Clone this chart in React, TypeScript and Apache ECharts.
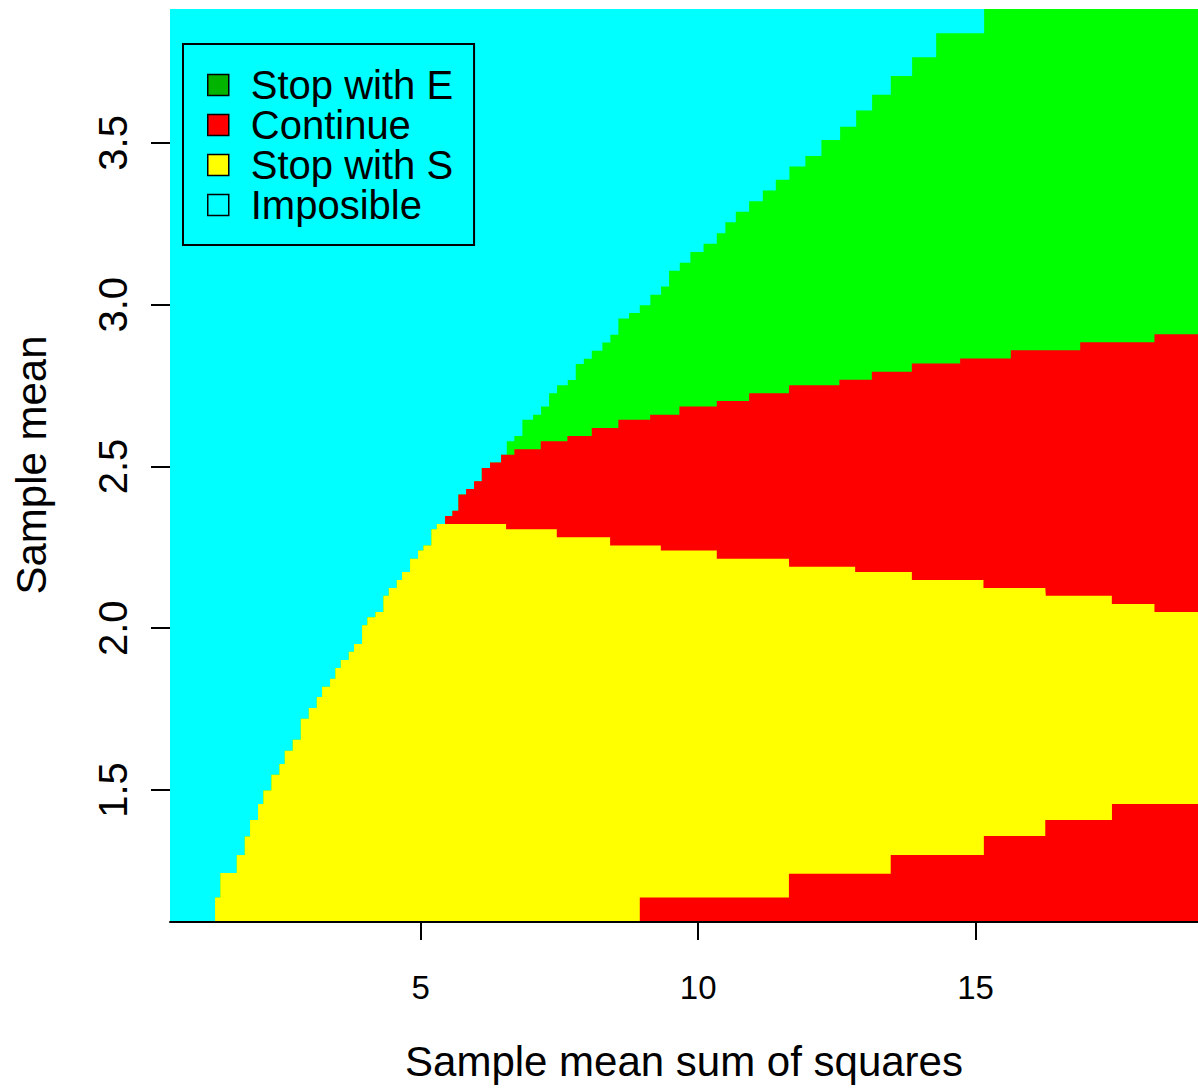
import React, { useEffect, useRef } from "react";
import * as echarts from "echarts";

// Axis extents (data units)
const X_MIN = 0.48;
const X_MAX = 19.01;
const Y_MIN = 1.095;
const Y_MAX = 3.914;

const xTicks = [5, 10, 15];
const yTicks = [1.5, 2.0, 2.5, 3.0, 3.5];

// Step boundaries: [x where the step starts, sample mean at that step]
// Upper edge of the possible region (above it: "Imposible")
const imposibleEdge: [number, number][] = [
  [1.292, 1.168], [1.387, 1.243], [1.683, 1.299], [1.827, 1.356], [1.923, 1.407],
  [2.067, 1.457], [2.162, 1.498], [2.307, 1.547], [2.451, 1.58], [2.548, 1.621],
  [2.692, 1.655], [2.837, 1.72], [2.981, 1.753], [3.125, 1.787], [3.221, 1.819],
  [3.365, 1.844], [3.46, 1.877], [3.558, 1.902], [3.702, 1.927], [3.798, 1.951],
  [3.942, 2.009], [4.037, 2.034], [4.182, 2.05], [4.326, 2.1], [4.423, 2.124],
  [4.567, 2.149], [4.663, 2.174], [4.807, 2.215], [4.951, 2.24], [5.047, 2.256],
  [5.191, 2.306], [5.288, 2.322], [5.438, 2.347], [5.57, 2.363], [5.678, 2.413],
  [5.817, 2.43], [5.961, 2.454], [6.1, 2.495], [6.249, 2.512], [6.448, 2.536],
  [6.551, 2.578], [6.687, 2.594], [6.832, 2.644], [7.025, 2.66], [7.169, 2.685],
  [7.313, 2.726], [7.457, 2.751], [7.65, 2.767], [7.794, 2.817], [7.939, 2.833],
  [8.083, 2.858], [8.274, 2.883], [8.418, 2.907], [8.562, 2.957], [8.755, 2.974],
  [8.948, 2.998], [9.139, 3.031], [9.332, 3.056], [9.476, 3.105], [9.669, 3.13],
  [9.86, 3.163], [10.098, 3.188], [10.336, 3.221], [10.491, 3.255], [10.679, 3.287],
  [10.919, 3.32], [11.166, 3.353], [11.4, 3.386], [11.645, 3.427], [11.933, 3.46],
  [12.222, 3.509], [12.559, 3.55], [12.848, 3.6], [13.136, 3.649], [13.473, 3.707],
  [13.857, 3.765], [14.29, 3.839], [15.155, 3.92],
];

// Lower edge of "Stop with E" (top of the upper "Continue" band)
const stopEEdge: [number, number][] = [
  [6.551, 2.536], [6.687, 2.553], [7.163, 2.578], [7.643, 2.594], [8.083, 2.619],
  [8.562, 2.644], [9.134, 2.66], [9.662, 2.685], [10.336, 2.702], [10.919, 2.726],
  [11.64, 2.751], [12.546, 2.768], [13.131, 2.793], [13.852, 2.818], [14.722, 2.834],
  [15.636, 2.859], [16.886, 2.884], [18.225, 2.909],
];

// Upper edge of "Stop with S"
const stopSEdge: [number, number][] = [
  [5.438, 2.322], [6.538, 2.306], [7.452, 2.281], [8.413, 2.256], [9.327, 2.24],
  [10.336, 2.215], [11.64, 2.19], [12.83, 2.174], [13.852, 2.149], [15.143, 2.124],
  [16.267, 2.1], [17.457, 2.075], [18.225, 2.05],
];

// Upper edge of the lower "Continue" band
const lowerContinueEdge: [number, number][] = [
  [8.948, 1.168], [11.636, 1.241], [13.471, 1.299], [15.15, 1.358], [16.257, 1.407],
  [17.459, 1.457],
];

const FONT = "'Liberation Sans', Arial, Helvetica, sans-serif";

function stepAt(steps: [number, number][], x: number, before: number): number {
  let v = before;
  for (const [sx, sy] of steps) {
    if (sx <= x + 1e-9) v = sy;
    else break;
  }
  return v;
}

const allBreaks = Array.from(
  new Set(
    [...imposibleEdge, ...stopEEdge, ...stopSEdge, ...lowerContinueEdge].map((p) => p[0])
  )
).sort((a, b) => a - b);

function layer(xs: number[], f: (x: number) => number): number[][] {
  const pts = xs.map((x) => [x, f(x)]);
  pts.push([X_MAX, f(X_MAX)]);
  return pts;
}

const B4 = (x: number) => stepAt(imposibleEdge, x, Y_MIN);
const B3 = (x: number) => stepAt(stopEEdge, x, Infinity);
const B2 = (x: number) => stepAt(stopSEdge, x, Infinity);
const B1 = (x: number) => stepAt(lowerContinueEdge, x, Y_MIN);

const imposibleData = [[X_MIN, Y_MAX], [X_MAX, Y_MAX]];
const stopEData = layer(imposibleEdge.map((p) => p[0]), B4);
const continueUpperData = layer(
  allBreaks.filter((x) => x >= stopSEdge[0][0]),
  (x) => Math.min(B3(x), B4(x))
);
const stopSData = layer(
  allBreaks.filter((x) => x >= imposibleEdge[0][0]),
  (x) => Math.min(B2(x), B4(x))
);
const continueLowerData = layer(lowerContinueEdge.map((p) => p[0]), B1);

function areaSeries(name: string, data: number[][], color: string) {
  return {
    type: "line",
    name,
    data,
    step: "end",
    symbol: "none",
    showSymbol: false,
    silent: true,
    lineStyle: { width: 0, color },
    itemStyle: { color },
    areaStyle: { color, opacity: 1, origin: "start" },
    emphasis: { disabled: true },
  };
}

export default function App() {
  const ref = useRef<HTMLDivElement>(null);
  useEffect(() => {
    const chart = echarts.init(ref.current!, null, { renderer: "svg" });
    chart.setOption({
      animation: false,
      backgroundColor: "#ffffff",
      grid: { left: 170, top: 9, width: 1028, height: 912, containLabel: false },
      xAxis: {
        type: "value",
        min: X_MIN,
        max: X_MAX,
        offset: 1,
        axisLine: { show: true, lineStyle: { color: "#000", width: 2 } },
        axisTick: { show: true, customValues: xTicks, length: 18, lineStyle: { color: "#000", width: 2 } },
        axisLabel: { customValues: xTicks, fontSize: 33, color: "#000", fontFamily: FONT, margin: 49 },
        splitLine: { show: false },
        name: "Sample mean sum of squares",
        nameLocation: "middle",
        nameGap: 118,
        nameTextStyle: { fontSize: 42, color: "#000", fontFamily: FONT },
      },
      yAxis: {
        type: "value",
        min: Y_MIN,
        max: Y_MAX,
        axisLine: { show: false },
        axisTick: { show: true, customValues: yTicks, length: 19, lineStyle: { color: "#000", width: 2 } },
        axisLabel: {
          customValues: yTicks,
          rotate: 90,
          fontSize: 40,
          color: "#000",
          fontFamily: FONT,
          margin: 37,
          formatter: (v: number) => v.toFixed(1),
        },
        splitLine: { show: false },
        name: "Sample mean",
        nameLocation: "middle",
        nameRotate: 90,
        nameGap: 118,
        nameTextStyle: { fontSize: 42, color: "#000", fontFamily: FONT },
      },
      legend: {
        orient: "vertical",
        left: 183,
        top: 44,
        icon: "rect",
        itemWidth: 21,
        itemHeight: 21,
        itemGap: 0,
        selectedMode: false,
        padding: [21, 21, 20, 24],
        borderColor: "#000",
        borderWidth: 2,
        itemStyle: { borderColor: "#000", borderWidth: 1.5 },
        textStyle: { fontSize: 40, color: "#000", fontFamily: FONT, lineHeight: 40, padding: [0, 0, 0, 17] },
        data: [
          { name: "Stop with E", itemStyle: { color: "#00b400" } },
          { name: "Continue", itemStyle: { color: "#ff0000" } },
          { name: "Stop with S", itemStyle: { color: "#ffff00" } },
          { name: "Imposible", itemStyle: { color: "#00ffff" } },
        ],
      },
      series: [
        areaSeries("Imposible", imposibleData, "#00ffff"),
        areaSeries("Stop with E", stopEData, "#00ff00"),
        areaSeries("Continue", continueUpperData, "#ff0000"),
        areaSeries("Stop with S", stopSData, "#ffff00"),
        areaSeries("Continue", continueLowerData, "#ff0000"),
      ],
    });
    return () => chart.dispose();
  }, []);
  return (
    <div
      ref={ref}
      style={{ position: "fixed", left: 0, top: 0, width: 1198, height: 1090, background: "#fff" }}
    />
  );
}
